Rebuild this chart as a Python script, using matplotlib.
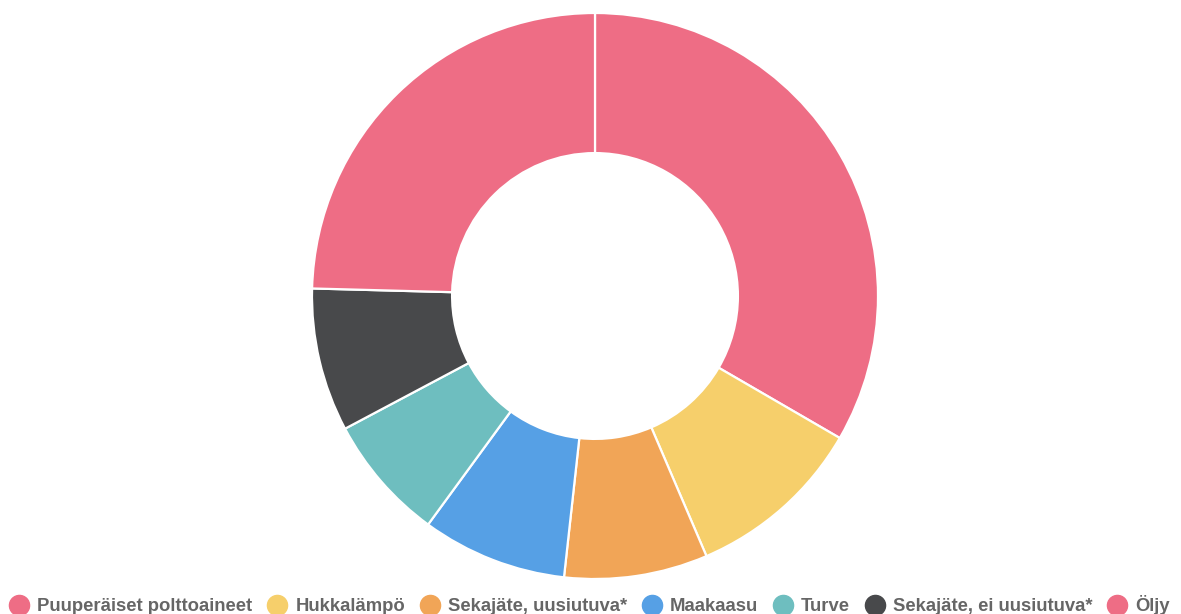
import matplotlib.pyplot as plt
from matplotlib.lines import Line2D

labels = ['Puuperäiset polttoaineet', 'Hukkalämpö', 'Sekajäte, uusiutuva*', 'Maakaasu',
          'Turve', 'Sekajäte, ei uusiutuva*', 'Öljy']
shares = [33.4, 10.2, 8.2, 8.3, 7.2, 8.2, 24.6]
colors = ['#EE6D85', '#F6CF6B', '#F1A557', '#56A0E5', '#6EBEBF', '#48494B', '#EE6D85']

W, H = 1181, 614
fig = plt.figure(figsize=(W / 100, H / 100), dpi=100)
plt.rcParams['font.family'] = ['Liberation Sans', 'DejaVu Sans']

# donut centred at (595, 296) px, outer radius 283 px
cx, cy, r = 595, 296, 283
ax = fig.add_axes([(cx - r) / W, (H - cy - r) / H, 2 * r / W, 2 * r / H])
ax.pie(shares, colors=colors, startangle=90, counterclock=False, radius=1,
       wedgeprops=dict(width=0.495, edgecolor='white', linewidth=1.6))
ax.set_xlim(-1, 1)
ax.set_ylim(-1, 1)
ax.set_aspect('equal')
ax.axis('off')

handles = [Line2D([], [], marker='o', linestyle='', markersize=14.5,
                  markerfacecolor=c, markeredgecolor=c) for c in colors]
leg = fig.legend(handles, labels, loc='center', bbox_to_anchor=(0.4996, 1 - 605 / H),
                 ncol=len(labels), frameon=False, handletextpad=0.47, columnspacing=0.85,
                 handlelength=1.0, borderaxespad=0, borderpad=0,
                 prop=dict(size=13.3, weight='bold'))
for t in leg.get_texts():
    t.set_color('#666666')

fig.savefig('out.png', dpi=100)
plt.close()
